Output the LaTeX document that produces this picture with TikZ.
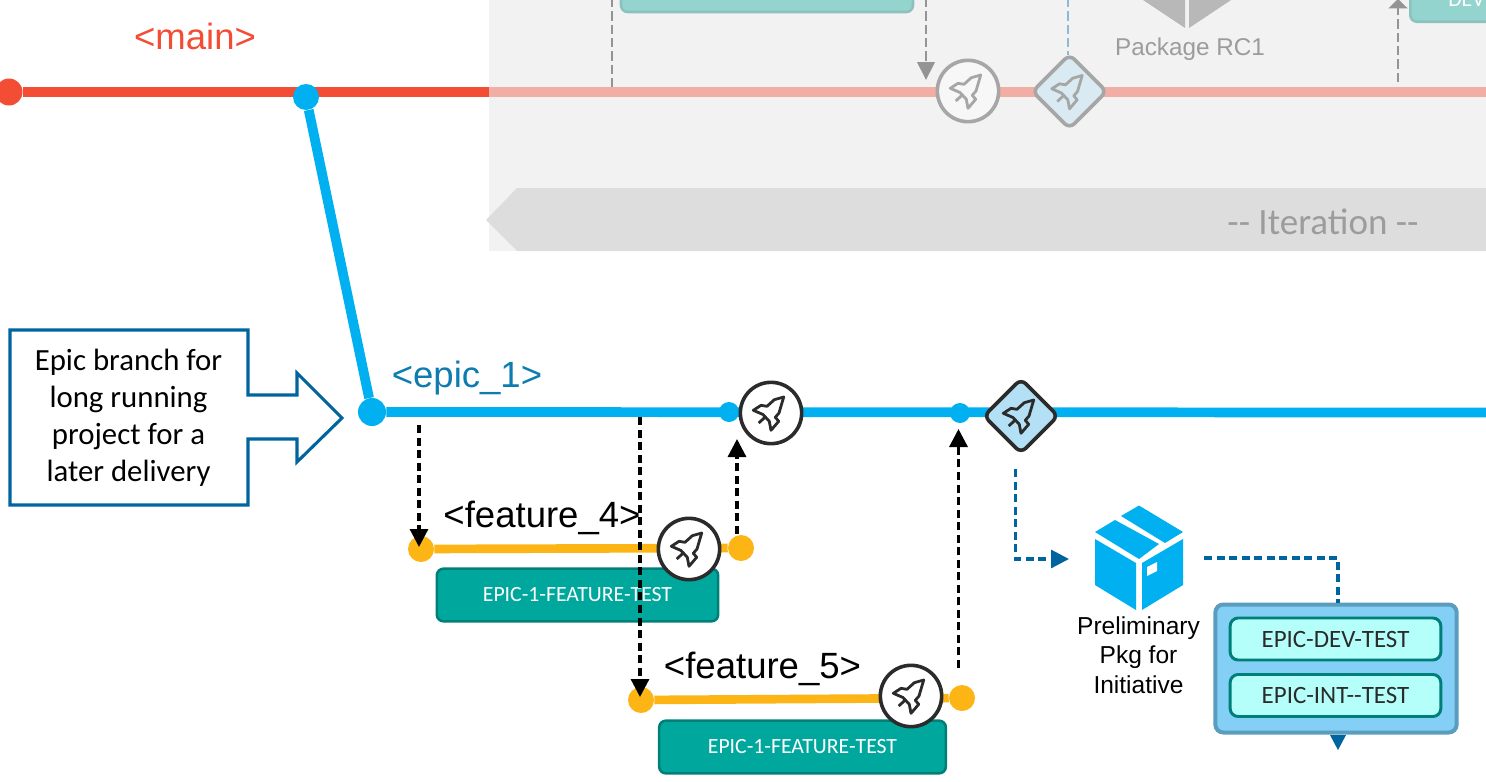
\documentclass[tikz,border=0pt]{standalone}
\usepackage{fontspec}
\setmainfont{Liberation Sans}
\newfontfamily\calibri{Carlito}
\usetikzlibrary{arrows.meta,positioning}
\definecolor{mainred}{HTML}{F34E35}
\definecolor{ghostred}{HTML}{F2ADA5}
\definecolor{epicblue}{HTML}{00B0F0}
\definecolor{inkblue}{HTML}{00659E}
\definecolor{labelblue}{HTML}{0F7CB0}
\definecolor{featyellow}{HTML}{FDB515}
\definecolor{tealfill}{HTML}{00A79D}
\definecolor{tealline}{HTML}{007F78}
\definecolor{ghostteal}{HTML}{93D4CE}
\definecolor{ghosttealline}{HTML}{8CC2BD}
\definecolor{ghostgrey}{HTML}{A6A6A6}
\definecolor{ghostdash}{HTML}{949494}
\definecolor{ghosttext}{HTML}{9C9C9C}
\definecolor{ghostdiamond}{HTML}{D9EAF2}
\definecolor{darkink}{HTML}{2B2B2B}
\definecolor{groupfill}{HTML}{83CFF5}
\definecolor{groupline}{HTML}{5B9DBE}
\definecolor{envfill}{HTML}{B5FFFB}
\definecolor{diamondfill}{HTML}{B3E0F5}
\tikzset{
  dot/.style={circle,inner sep=0pt,minimum size=#1*0.75pt},
  rocketcircle/.style={circle,draw=#1,line width=2.7pt,fill=white,minimum size=46pt,inner sep=0pt},
  testbox/.style={draw=tealline,fill=tealfill,line width=1.9pt,rounded corners=5pt,text=white,
    font=\calibri\fontsize{16.3}{18}\selectfont,inner sep=0pt},
  envbox/.style={draw=tealline,fill=envfill,line width=2.2pt,rounded corners=6pt,text=darkink,
    minimum width=158pt,minimum height=31.5pt,font=\calibri\fontsize{18.7}{20}\selectfont,inner sep=0pt},
  branchlabel/.style={font=\fontsize{27.4}{30}\selectfont,inner sep=0pt},
  flowdash/.style={line width=2.4pt,dash pattern=on 6pt off 3.4pt,-{Triangle[length=13.5pt,width=13.5pt]}},
  rocket/.pic={
    \draw[line width=2.1pt,line join=round,pic actions]
      (12.7,-16) -- (8,0) -- (4.3,4.3) -- (7.7,8.3) -- (0,17.3) -- (-1.7,8.3) -- (-8,1.5)
      -- (-17.7,-2.7) -- (-10,-7.7) -- (-4,-6.7) -- (3.3,-13.3) -- cycle;
    \draw[line width=2.1pt,pic actions] (-12.3,10) -- (-5.7,4);
  },
  diamondmark/.pic={
    \draw[line width=2.7pt,rounded corners=5pt,pic actions] (-37,0) -- (0,-37) -- (37,0) -- (0,37) -- cycle;
  }
}
\begin{document}
\begin{tikzpicture}[x=0.75pt,y=-0.75pt]
  \useasboundingbox (0,0) rectangle (1486,782);
  \clip (0,0) rectangle (1486,782);
  % Faded iteration panel
  \fill[black!5] (489,0) rectangle (1486,251);
  \fill[black!13.5] (486,220) -- (517,188) -- (1486,188) -- (1486,251) -- (517,251) -- cycle;
  \node[text=ghosttext,font=\calibri\fontsize{27.8}{30}\selectfont,inner sep=0pt] (iterlabel) at (1323,222) {-- Iteration --};
  % Coordinates for the free ends
  \coordinate (gd1top) at (612,-2);
  \coordinate (gd1end) at (612,90);
  \coordinate (gd2top) at (926,-2);
  \coordinate (gd2end) at (926,80);
  \coordinate (gd3top) at (1068,-2);
  \coordinate (gd3end) at (1068,55);
  \coordinate (gd4start) at (1398,82);
  \coordinate (gd4end) at (1398,-1);
  \coordinate (mainend) at (1486,92);
  \coordinate (mainfade) at (489,92);
  \coordinate (epicend) at (1486,412.5);
  % Faded nodes
  \node[draw=ghosttealline,fill=ghostteal,line width=1.9pt,rounded corners=5pt,minimum width=219pt,minimum height=30pt] (ghostbox1) at (767,-8) {};
  \node[draw=ghosttealline,fill=ghostteal,line width=1.9pt,rounded corners=5pt,minimum width=180pt,minimum height=30pt,
    anchor=south west] (ghostbox2) at (1409,23) {};
  \node[text=white,font=\calibri\fontsize{16.3}{18}\selectfont,inner sep=0pt,anchor=base west] (ghostdev) at (1448,6) {DEV};
  \node[text=ghosttext,font=\fontsize{18.2}{20}\selectfont,inner sep=0pt] (pkgrc) at (1190,49) {Package RC1};
  \fill[black!28] (1143,0) -- (1185,0) -- (1185,28) -- cycle;
  \fill[black!28] (1189,0) -- (1231,0) -- (1189,28) -- cycle;
  % Main branch
  \draw[ghostred,line width=7.3pt] (mainfade) -- (mainend);
  \node[dot=27,fill=mainred] (mainstart) at (9,92) {};
  \draw[mainred,line width=7.3pt] (mainstart) -- (mainfade);
  \node[dot=26,fill=epicblue] (mainfork) at (306,97) {};
  \node[branchlabel,text=mainred] (mainlabel) at (195,36) {<main>};
  \draw[ghostdash,line width=2.1pt,dash pattern=on 7pt off 3pt] (gd1top) -- (gd1end);
  \draw[ghostdash,line width=2.1pt,dash pattern=on 7pt off 3pt,-{Triangle[length=13.5pt,width=13pt]}] (gd2top) -- (gd2end);
  \draw[groupline!70,line width=2.1pt,dash pattern=on 7pt off 3pt] (gd3top) -- (gd3end);
  \draw[ghostdash,line width=2.1pt,dash pattern=on 7pt off 3pt,-{Triangle[length=7pt,width=14pt]}] (gd4start) -- (gd4end);
  \node[rocketcircle=ghostgrey,fill=white!97!black] (ghostrc) at (968,91) {};
  \pic[draw=ghostgrey] at (ghostrc) {rocket};
  \pic[draw=ghostgrey,fill=ghostdiamond] at (1069.5,91.5) {diamondmark};
  \pic[draw=ghostgrey] at (1069.5,91.5) {rocket};
  % Epic branch
  \node[dot=28,fill=epicblue] (epicstart) at (372,412) {};
  \node[dot=20,fill=epicblue] (epicm1) at (729,412) {};
  \node[dot=20,fill=epicblue] (epicm2) at (960,413) {};
  \draw[epicblue,line width=7.3pt] (mainfork) -- (epicstart);
  \draw[epicblue,line width=7.3pt] (epicstart) -- (epicend);
  \node[branchlabel,text=labelblue] (epiclabel) at (467,378) {<epic\_1>};
  \node[rocketcircle=darkink] (epicrc) at (771,413) {};
  \pic[draw=darkink] at (epicrc) {rocket};
  \pic[draw=darkink,fill=diamondfill] at (1021,416) {diamondmark};
  \pic[draw=darkink] at (1021,416) {rocket};
  % Callout
  \draw[inkblue,line width=2.3pt,line join=miter] (10,330) -- (248,330) -- (248,395) -- (297,395) -- (297,373)
    -- (342,418) -- (297,462) -- (297,439) -- (248,439) -- (248,505) -- (10,505) -- cycle;
  \node[font=\calibri\fontsize{23.1}{27.75}\selectfont,align=center,inner sep=0pt] (calloutlabel) at (128.5,418)
    {Epic branch for\\long running\\project for a\\later delivery};
  % Feature 4
  \node[dot=26,fill=featyellow] (f4start) at (421,549) {};
  \node[dot=26,fill=featyellow] (f4end) at (741,548) {};
  \draw[featyellow,line width=6.5pt] (f4start) -- (f4end);
  \node[testbox,minimum width=211pt,minimum height=39.5pt] (f4box) at (577.5,595) {EPIC-1-FEATURE-TEST};
  \node[rocketcircle=darkink] (f4rc) at (689,549) {};
  \pic[draw=darkink] at (f4rc) {rocket};
  \node[branchlabel] (f4label) at (542,518) {<feature\_4>};
  % Feature 5
  \node[dot=26,fill=featyellow] (f5start) at (641,700) {};
  \node[dot=26,fill=featyellow] (f5end) at (962,698) {};
  \draw[featyellow,line width=6.5pt] (f5start) -- (f5end);
  \node[testbox,minimum width=215pt,minimum height=39.5pt] (f5box) at (802.5,747) {EPIC-1-FEATURE-TEST};
  \node[rocketcircle=darkink] (f5rc) at (911,696) {};
  \pic[draw=darkink] at (f5rc) {rocket};
  \node[branchlabel] (f5label) at (762.5,669) {<feature\_5>};
  % Package
  \fill[epicblue] (1095,532) -- (1115,520) -- (1159,544) -- (1139,559) -- cycle;
  \fill[epicblue] (1121,516) -- (1139,505.5) -- (1183,532) -- (1165,543) -- cycle;
  \fill[epicblue] (1095,539) -- (1136,563) -- (1136,610) -- (1095,585) -- cycle;
  \fill[epicblue] (1142,563) -- (1183,539) -- (1183,585) -- (1142,610) -- cycle;
  \fill[white] (1147,567) -- (1157,562) -- (1157,571) -- (1147,576) -- cycle;
  \node[font=\fontsize{18.4}{22}\selectfont,align=center,inner sep=0pt] (pkglabel) at (1138.5,655)
    {Preliminary\\Pkg for\\Initiative};
  % Environment box
  \node[draw=groupline,fill=groupfill,line width=3pt,rounded corners=6pt,minimum width=181pt,minimum height=96pt,inner sep=0pt] (envgroup) at (1336,668.5) {};
  \node[envbox] (devtest) at (1335.5,639) {EPIC-DEV-TEST};
  \node[envbox] (inttest) at (1335.5,695.5) {EPIC-INT--TEST};
  % Coordinates for the dashed arrows
  \coordinate (a1top) at (419,425);
  \coordinate (a1end) at (419,547);
  \coordinate (a2top) at (640,417);
  \coordinate (a2end) at (640,697);
  \coordinate (a3start) at (737,534);
  \coordinate (a3end) at (737,439);
  \coordinate (a4start) at (958.5,668);
  \coordinate (a4end) at (958.5,429);
  \coordinate (p1start) at (1015.5,469);
  \coordinate (p1end) at (1069,559);
  \coordinate (p2start) at (1204,558);
  \coordinate (tailtop) at (1338,735);
  % Arrows
  \draw[flowdash] (a1top) -- (a1end);
  \draw[flowdash] (a2top) -- (a2end);
  \draw[flowdash] (a3start) -- (a3end);
  \draw[flowdash] (a4start) -- (a4end);
  \draw[flowdash,inkblue] (p1start) |- (p1end);
  \draw[flowdash,inkblue,-] (p2start) -| (envgroup.north -| tailtop);
  \fill[inkblue] (1330,735) -- (1346,735) -- (1338,750) -- cycle;
\end{tikzpicture}
\end{document}
